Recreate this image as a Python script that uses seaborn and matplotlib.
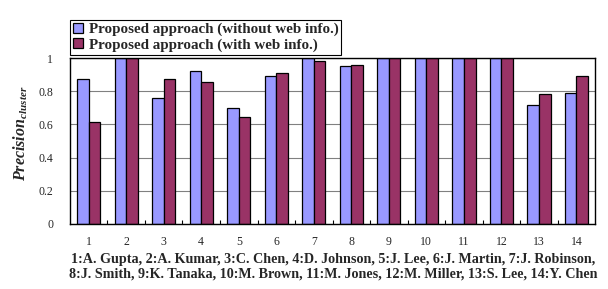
import matplotlib
matplotlib.use("Agg")
import matplotlib.pyplot as plt
import seaborn as sns
import pandas as pd
import numpy as np
from matplotlib.ticker import FixedLocator

categories = [str(i) for i in range(1, 15)]
without_web = [0.873, 1.0, 0.761, 0.92, 0.697, 0.89, 1.0, 0.952, 1.0, 1.0, 1.0, 1.0, 0.715, 0.787]
with_web = [0.614, 1.0, 0.872, 0.855, 0.646, 0.908, 0.982, 0.958, 1.0, 1.0, 1.0, 1.0, 0.783, 0.893]
series_names = ["Proposed approach (without web info.)", "Proposed approach (with web info.)"]
y_ticks = [0, 0.2, 0.4, 0.6, 0.8, 1]
y_tick_labels = ["0", "0.2", "0.4", "0.6", "0.8", "1"]
caption = ("1:A. Gupta, 2:A. Kumar, 3:C. Chen, 4:D. Johnson, 5:J. Lee, 6:J. Martin, 7:J. Robinson,\n"
           "8:J. Smith, 9:K. Tanaka, 10:M. Brown, 11:M. Jones, 12:M. Miller, 13:S. Lee, 14:Y. Chen")

df = pd.DataFrame({
    "cat": categories * 2,
    "value": without_web + with_web,
    "series": [series_names[0]] * len(categories) + [series_names[1]] * len(categories),
})

sns.set_theme(style="white")
plt.rcParams["font.family"] = ["Liberation Serif", "DejaVu Serif"]
plt.rcParams["mathtext.fontset"] = "custom"
plt.rcParams["mathtext.rm"] = "Liberation Serif"
plt.rcParams["mathtext.it"] = "Liberation Serif:italic"
plt.rcParams["mathtext.bf"] = "Liberation Serif:bold"
try:
    plt.rcParams["mathtext.bfit"] = "Liberation Serif:bold:italic"
except Exception:
    pass

fig = plt.figure(figsize=(6.08, 2.89), dpi=100)
ax = fig.add_axes([0.115, 0.225, 0.864, 0.574])

colors = ["#9999FF", "#993366"]
sns.barplot(data=df, x="cat", y="value", hue="series", palette=colors,
            width=0.62, edgecolor="black", linewidth=0.9, ax=ax, legend=True,
            saturation=1)

ax.set_ylim(0, 1)
ax.set_xlim(-0.5, len(categories) - 0.5)
ax.set_yticks(y_ticks)
ax.set_yticklabels(y_tick_labels)
ax.yaxis.grid(True, color="#808080", linewidth=0.8)
ax.set_axisbelow(True)
for s in ax.spines.values():
    s.set_color("black")
    s.set_linewidth(1.0)
ax.tick_params(axis="both", labelsize=8.5, length=0, pad=9)
ax.tick_params(axis="y", pad=12)
ax.xaxis.set_minor_locator(FixedLocator(np.arange(0.5, len(categories) - 0.5, 1)))
ax.tick_params(axis="x", which="minor", direction="in", length=3, color="black", width=0.8, bottom=True)
ax.set_xlabel("")
ax.set_ylabel("")

fig.text(0.035, 0.538, r"$\mathbfit{Precision}_{\mathbfit{cluster}}$", rotation=90,
         ha="center", va="center", fontsize=11.5)

fig.text(0.548, 0.125, caption, ha="center", va="top", fontsize=10.2,
         fontweight="bold", linespacing=1.2)

handles, labels = ax.get_legend_handles_labels()
leg = ax.legend(handles, labels, loc="lower left", bbox_to_anchor=(0.0, 1.02),
                frameon=True, fancybox=False, edgecolor="black", framealpha=1,
                prop={"weight": "bold", "size": 10.8}, handlelength=0.65,
                handleheight=0.65, handletextpad=0.4, borderpad=0.2,
                labelspacing=0.15, borderaxespad=0)
leg.get_frame().set_linewidth(0.8)

fig.savefig("out.png", dpi=100)
